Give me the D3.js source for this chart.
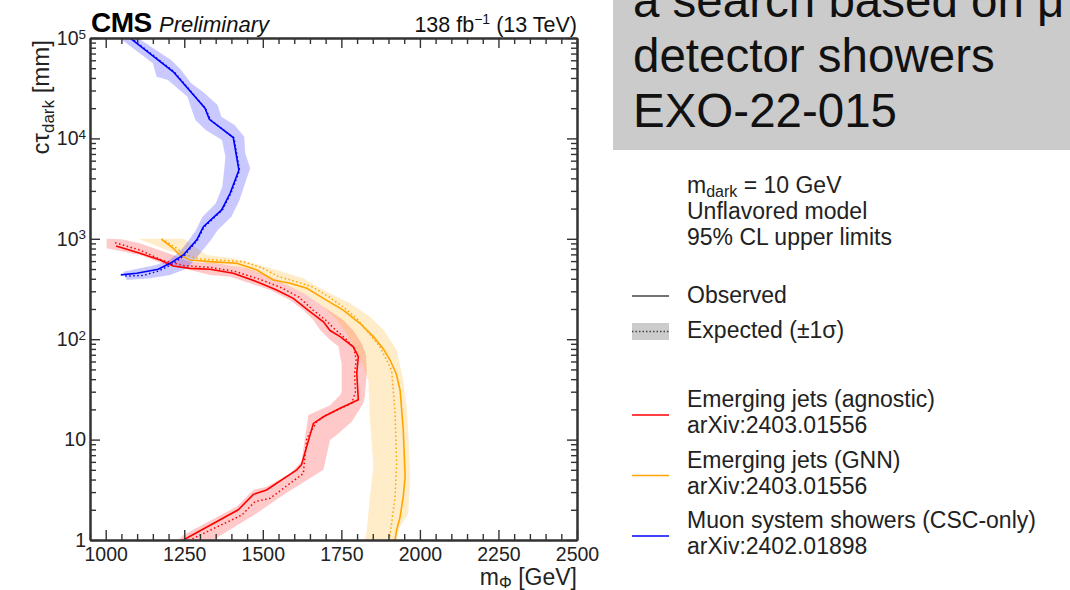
<!DOCTYPE html>
<html>
<head>
<meta charset="utf-8">
<script src="https://cdn.jsdelivr.net/npm/d3@7"></script>
<style>
  body { margin: 0; background: #fff; }
  svg { display: block; font-family: "Liberation Sans", Arial, Helvetica, sans-serif; }
</style>
</head>
<body>
<div id="container"></div>
<script>
// ---- data: [m_Phi (GeV), c tau_dark (mm)] ----
var xTicks = [1000, 1250, 1500, 1750, 2000, 2250, 2500];
var yTicks = [1, 10, 100, 1000, 10000, 100000];

// Emerging jets (agnostic)
var ejObs = [[1033, 848], [1109, 717], [1173, 615], [1215, 536], [1268, 508], [1332, 497], [1406, 453],
  [1481, 374], [1544, 309], [1597, 255], [1650, 188], [1693, 149], [1714, 122], [1746, 106], [1788, 84],
  [1804, 67], [1799, 46], [1804, 25], [1746, 20.5], [1693, 16.9], [1661, 14.5], [1623, 5.6], [1608, 5.0],
  [1512, 3.15], [1470, 2.85], [1422, 2.0], [1247, 1.0], [1225, 0.92]];
var ejExp = [[1030, 915], [1110, 770], [1180, 610], [1250, 540], [1330, 520], [1410, 475], [1490, 395],
  [1560, 325], [1615, 262], [1660, 195], [1700, 155], [1730, 125], [1765, 100], [1790, 82], [1797, 62],
  [1792, 45], [1795, 30], [1783, 23], [1703, 17.6], [1672, 15.1], [1640, 10.3], [1629, 4.6], [1523, 2.6],
  [1475, 2.41], [1433, 1.77], [1279, 1.04], [1260, 0.95]];
var ejBandUp = [[1003, 1000], [1050, 990], [1109, 902], [1215, 690], [1268, 592], [1353, 570], [1449, 508],
  [1523, 420], [1587, 334], [1640, 275], [1693, 211], [1756, 155], [1790, 120], [1815, 90], [1828, 70],
  [1831, 46], [1825, 27], [1820, 23], [1783, 15.1], [1735, 11.1], [1714, 9.9], [1693, 5.0], [1565, 2.81],
  [1481, 1.85], [1342, 1.0], [1320, 0.9]];
var ejBandDown = [[1003, 804], [1109, 690], [1194, 548], [1268, 489], [1332, 436], [1396, 420], [1459, 361],
  [1523, 309], [1587, 245], [1629, 195], [1661, 155], [1682, 124], [1714, 98], [1740, 85], [1751, 57],
  [1751, 30], [1746, 27.8], [1714, 22], [1645, 17.6], [1623, 6.0], [1587, 4.6], [1512, 3.4], [1470, 3.15],
  [1417, 2.15], [1247, 1.12], [1225, 0.95]];

// Emerging jets (GNN)
var gnnObs = [[1178, 989], [1215, 804], [1236, 690], [1268, 615], [1332, 592], [1417, 570], [1481, 489],
  [1533, 389], [1587, 361], [1640, 321], [1693, 255], [1756, 195], [1809, 144], [1852, 106], [1884, 80],
  [1905, 62], [1925, 45], [1937, 31], [1947, 12.5], [1953, 4.27], [1947, 2.7], [1937, 1.7],
  [1926, 1.26], [1921, 1.0], [1918, 0.9]];
var gnnExp = [[1178, 1000], [1220, 830], [1250, 700], [1300, 630], [1370, 610], [1440, 590], [1500, 510],
  [1550, 420], [1600, 380], [1660, 330], [1710, 265], [1760, 205], [1800, 160], [1825, 128], [1873, 84],
  [1910, 49], [1921, 18.3], [1926, 5.8], [1921, 2.7], [1910, 1.47], [1903, 1.0], [1900, 0.9]];
var gnnBandUp = [[1250, 1000], [1268, 902], [1321, 690], [1406, 640], [1470, 570], [1544, 489], [1629, 404],
  [1703, 297], [1778, 228], [1841, 167], [1884, 124], [1926, 78], [1947, 39], [1958, 21], [1963, 12],
  [1969, 4.0], [1963, 1.85], [1937, 1.36], [1926, 1.0], [1922, 0.9]];
var gnnBandDown = [[1104, 1000], [1194, 773], [1258, 664], [1321, 570], [1396, 548], [1459, 489], [1512, 420],
  [1565, 361], [1608, 309], [1650, 265], [1693, 211], [1735, 155], [1767, 114], [1790, 84], [1815, 60],
  [1836, 39], [1841, 15.7], [1852, 5.4], [1841, 2.7], [1831, 1.26], [1825, 1.0], [1822, 0.9]];

// Muon system showers (CSC-only)
var cscObs = [[1070, 106000], [1077, 100000], [1215, 46100], [1316, 19950], [1330, 15500], [1406, 10200],
  [1424, 4840], [1396, 2840], [1369, 1940], [1311, 1320], [1290, 977], [1247, 690], [1205, 570],
  [1167, 497], [1099, 453], [1048, 437]];
var cscExp = [[1070, 106000], [1218, 46000], [1318, 19800], [1333, 15300], [1408, 10100], [1426, 4800],
  [1398, 2820], [1371, 1930], [1313, 1310], [1292, 970], [1250, 680], [1210, 555], [1170, 480],
  [1120, 432], [1060, 425]];
var cscBandUp = [[1118, 110000], [1112, 95500], [1208, 60400], [1240, 48000], [1272, 35400], [1315, 28100],
  [1356, 21500], [1368, 16400], [1410, 13600], [1441, 10400], [1444, 7110], [1460, 5040], [1447, 3850],
  [1426, 2430], [1400, 1660], [1356, 1220], [1335, 973], [1292, 665], [1260, 508], [1205, 436],
  [1141, 404], [1067, 389]];
var cscBandDown = [[1046, 110000], [1052, 95500], [1150, 56000], [1162, 41200], [1198, 38200], [1260, 26000],
  [1274, 19200], [1286, 15200], [1318, 12100], [1370, 9640], [1381, 6580], [1377, 4840], [1371, 3300],
  [1350, 2250], [1308, 1660], [1287, 1220], [1265, 973], [1240, 773], [1203, 615], [1160, 548],
  [1109, 508], [1056, 470]];

var seriesNames = [["Emerging jets (agnostic)", "arXiv:2403.01556"],
  ["Emerging jets (GNN)", "arXiv:2403.01556"],
  ["Muon system showers (CSC-only)", "arXiv:2402.01898"]];
var seriesColors = ["#ff0000", "#ffa500", "#0000ff"];

(function () {
  var width = 1070, height = 590;
  var left = 90, right = 577, top = 38, bottom = 540;

  var svg = d3.select("#container").append("svg").attr("width", width).attr("height", height);

  var x = d3.scaleLinear().domain([950, 2500]).range([left, right]);
  var y = d3.scaleLog().domain([1, 1e5]).range([bottom, top]);

  svg.append("defs").append("clipPath").attr("id", "plotclip")
    .append("rect").attr("x", left).attr("y", top).attr("width", right - left).attr("height", bottom - top);

  var line = d3.line().x(function (d) { return x(d[0]); }).y(function (d) { return y(d[1]); });

  var series = [
    { obs: ejObs, exp: ejExp, up: ejBandUp, down: ejBandDown },
    { obs: gnnObs, exp: gnnExp, up: gnnBandUp, down: gnnBandDown },
    { obs: cscObs, exp: cscExp, up: cscBandUp, down: cscBandDown }
  ];

  var plot = svg.append("g").attr("clip-path", "url(#plotclip)");

  // +-1 sigma bands
  series.forEach(function (s, i) {
    plot.append("path")
      .attr("d", line(s.up.concat(s.down.slice().reverse())) + "Z")
      .attr("fill", seriesColors[i]).attr("fill-opacity", 0.21).attr("stroke", "none");
  });
  // expected (dotted) and observed (solid)
  series.forEach(function (s, i) {
    plot.append("path").attr("d", line(s.exp)).attr("fill", "none")
      .attr("stroke", seriesColors[i]).attr("stroke-width", 1.5).attr("stroke-dasharray", "1.5,2.5");
    plot.append("path").attr("d", line(s.obs)).attr("fill", "none")
      .attr("stroke", seriesColors[i]).attr("stroke-width", 1.6);
  });

  // ---- axes ----
  var xMinor = d3.range(950, 2501, 50).filter(function (v) { return xTicks.indexOf(v) < 0; });
  var yMinor = [];
  yTicks.slice(0, -1).forEach(function (t) { for (var k = 2; k < 10; k++) yMinor.push(t * k); });

  function styleAxis(g) {
    g.attr("font-family", null).attr("font-size", null);
    g.select(".domain").attr("stroke", "#333").attr("stroke-width", 2);
    g.selectAll(".tick line").attr("stroke", "#333").attr("stroke-width", 1.4);
    g.selectAll(".tick text").attr("fill", "#222").style("font-size", "19.5px");
  }

  // bottom
  svg.append("g").attr("transform", "translate(0," + bottom + ")")
    .call(d3.axisBottom(x).tickValues(xMinor).tickSize(-6).tickSizeOuter(0).tickFormat(""))
    .call(styleAxis);
  svg.append("g").attr("transform", "translate(0," + bottom + ")")
    .call(d3.axisBottom(x).tickValues(xTicks).tickSize(-10).tickSizeOuter(0).tickPadding(7).tickFormat(d3.format("d")))
    .call(styleAxis);
  // top
  svg.append("g").attr("transform", "translate(0," + top + ")")
    .call(d3.axisTop(x).tickValues(xMinor).tickSize(-6).tickSizeOuter(0).tickFormat(""))
    .call(styleAxis);
  svg.append("g").attr("transform", "translate(0," + top + ")")
    .call(d3.axisTop(x).tickValues(xTicks).tickSize(-10).tickSizeOuter(0).tickFormat(""))
    .call(styleAxis);
  // left
  svg.append("g").attr("transform", "translate(" + left + ",0)")
    .call(d3.axisLeft(y).tickValues(yMinor).tickSize(-6).tickSizeOuter(0).tickFormat(""))
    .call(styleAxis);
  var yAx = svg.append("g").attr("transform", "translate(" + left + ",0)")
    .call(d3.axisLeft(y).tickValues(yTicks).tickSize(-10).tickSizeOuter(0).tickPadding(4))
    .call(styleAxis);
  yAx.selectAll(".tick text").each(function (d) {
    var t = d3.select(this).text(null);
    var e = Math.round(Math.log10(d));
    if (e === 0) { t.text("1"); return; }
    if (e === 1) { t.text("10"); return; }
    t.append("tspan").text("10");
    t.append("tspan").style("font-size", "13.5px").attr("dy", "-0.45em").text(e);
  });
  // right
  svg.append("g").attr("transform", "translate(" + right + ",0)")
    .call(d3.axisRight(y).tickValues(yMinor).tickSize(-6).tickSizeOuter(0).tickFormat(""))
    .call(styleAxis);
  svg.append("g").attr("transform", "translate(" + right + ",0)")
    .call(d3.axisRight(y).tickValues(yTicks).tickSize(-10).tickSizeOuter(0).tickFormat(""))
    .call(styleAxis);

  // axis titles
  var yt = svg.append("text").attr("transform", "translate(49," + (top + 2) + ") rotate(-90)")
    .attr("text-anchor", "end").attr("font-size", 24).attr("fill", "#222");
  yt.append("tspan").text("cτ");
  yt.append("tspan").attr("font-size", 17).attr("dy", 5).text("dark");
  yt.append("tspan").attr("dy", -5).text(" [mm]");

  var xt = svg.append("text").attr("x", right).attr("y", 585)
    .attr("text-anchor", "end").attr("font-size", 23).attr("fill", "#222");
  xt.append("tspan").text("m");
  xt.append("tspan").attr("font-size", 16).attr("dy", 3).text("Φ");
  xt.append("tspan").attr("dy", -3).text(" [GeV]");

  // header
  svg.append("text").attr("x", left + 1).attr("y", 32).attr("font-size", 28).attr("font-weight", "bold")
    .attr("letter-spacing", -0.5).attr("fill", "#000").text("CMS");
  svg.append("text").attr("x", 159).attr("y", 32).attr("font-size", 22).attr("font-style", "italic")
    .attr("fill", "#111").text("Preliminary");
  var lumi = svg.append("text").attr("x", right).attr("y", 32).attr("text-anchor", "end")
    .attr("font-size", 21.5).attr("fill", "#111");
  lumi.append("tspan").text("138 fb");
  lumi.append("tspan").attr("font-size", 14).attr("dy", -8).text("−1");
  lumi.append("tspan").attr("dy", 8).text(" (13 TeV)");

  // slide title box
  svg.append("rect").attr("x", 613).attr("y", 0).attr("width", width - 613).attr("height", 150).attr("fill", "#cbcbcb");
  ["a search based on μ", "detector showers", "EXO-22-015"].forEach(function (s, i) {
    svg.append("text").attr("x", 633).attr("y", 17 + i * 55).attr("font-size", 47.5).attr("fill", "#111").text(s);
  });

  // legend
  var lx = 687, mx0 = 632, mx1 = 669;
  var h1 = svg.append("text").attr("x", lx).attr("y", 193).attr("font-size", 23).attr("fill", "#222");
  h1.append("tspan").text("m");
  h1.append("tspan").attr("font-size", 16).attr("dy", 4).text("dark");
  h1.append("tspan").attr("dy", -4).text(" = 10 GeV");
  svg.append("text").attr("x", lx).attr("y", 219).attr("font-size", 23).attr("fill", "#222").text("Unflavored model");
  svg.append("text").attr("x", lx).attr("y", 245).attr("font-size", 23).attr("fill", "#222").text("95% CL upper limits");

  svg.append("line").attr("x1", mx0).attr("x2", mx1).attr("y1", 296).attr("y2", 296)
    .attr("stroke", "#444").attr("stroke-width", 1.6);
  svg.append("text").attr("x", lx).attr("y", 303).attr("font-size", 23).attr("fill", "#222").text("Observed");
  svg.append("rect").attr("x", mx0).attr("y", 323).attr("width", mx1 - mx0).attr("height", 17).attr("fill", "#cccccc");
  svg.append("line").attr("x1", mx0).attr("x2", mx1).attr("y1", 331.5).attr("y2", 331.5)
    .attr("stroke", "#444").attr("stroke-width", 1.4).attr("stroke-dasharray", "1.5,2");
  svg.append("text").attr("x", lx).attr("y", 338).attr("font-size", 23).attr("fill", "#222").text("Expected (±1σ)");

  seriesNames.forEach(function (n, i) {
    var by = 407 + i * 60.5;
    svg.append("line").attr("x1", mx0).attr("x2", mx1).attr("y1", by + 8).attr("y2", by + 8)
      .attr("stroke", seriesColors[i]).attr("stroke-width", 1.6);
    svg.append("text").attr("x", lx).attr("y", by).attr("font-size", 23).attr("fill", "#222").text(n[0]);
    svg.append("text").attr("x", lx).attr("y", by + 26).attr("font-size", 23).attr("fill", "#222").text(n[1]);
  });
})();
</script>
</body>
</html>
